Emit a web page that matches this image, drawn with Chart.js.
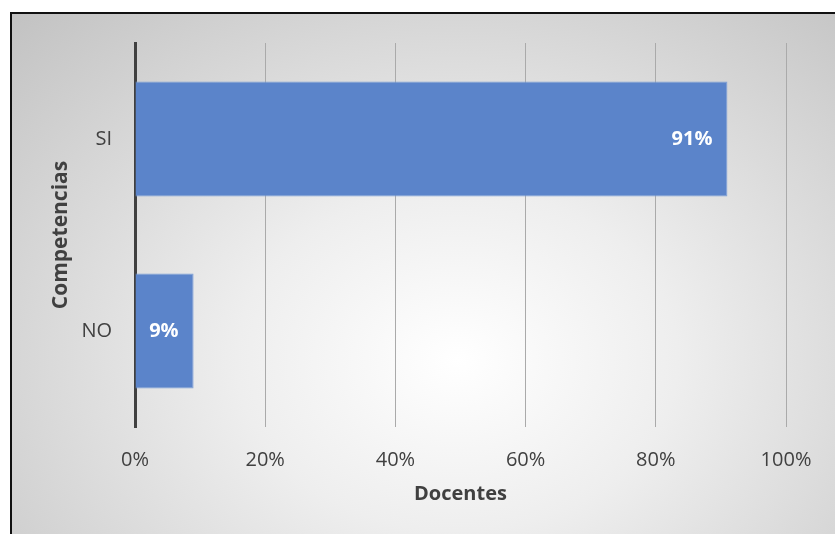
<!DOCTYPE html>
<html>
<head>
<meta charset="utf-8">
<script src="https://cdn.jsdelivr.net/npm/chart.js@4"></script>
<style>
html, body { margin: 0; padding: 0; background: #fff; overflow: hidden; }
#marco {
  position: absolute; left: 10px; top: 12px; width: 840px; height: 540px;
  border-left: 2px solid #111; border-top: 2px solid #111;
  background: radial-gradient(ellipse farthest-corner at 53% 64%, #ffffff 0%, #eeeeee 35%, #c2c2c2 100%);
}
#grafico { position: absolute; left: 0; top: 0; }
</style>
</head>
<body>
<div id="marco"></div>
<canvas id="grafico" width="835" height="534"></canvas>
<script>
// datos del grafico
const categorias = ["SI", "NO"];
const porcentajes = [91, 9];
const marcasX = [0, 20, 40, 60, 80, 100];

const fuente = "'Open Sans', sans-serif";
const gris = "#404040";

// etiquetas blancas dentro de la barra (extremo interior)
const etiquetas = {
  id: 'etiquetas',
  afterDatasetsDraw(chart) {
    const ctx = chart.ctx;
    const meta = chart.getDatasetMeta(0);
    ctx.save();
    ctx.font = "bold 20px " + fuente;
    ctx.fillStyle = "#ffffff";
    ctx.textAlign = "right";
    ctx.textBaseline = "middle";
    meta.data.forEach((barra, i) => {
      ctx.fillText(porcentajes[i] + "%", barra.x - 15, barra.y);
    });
    ctx.restore();
  }
};

new Chart(document.getElementById("grafico"), {
  type: 'bar',
  data: {
    labels: categorias,
    datasets: [{
      data: porcentajes,
      backgroundColor: "#5b84ca",
      borderColor: "#7d9fd8",
      borderWidth: 1,
      barPercentage: 0.6,
      categoryPercentage: 1
    }]
  },
  options: {
    indexAxis: 'y',
    responsive: false,
    animation: false,
    layout: { padding: { left: 0, top: 43, right: 49, bottom: 0 } },
    plugins: { legend: { display: false }, tooltip: { enabled: false } },
    scales: {
      x: {
        min: 0, max: 100,
        afterBuildTicks: (s) => { s.ticks = marcasX.map(v => ({ value: v })); },
        afterFit: (s) => { s.height = 107; },
        grid: { color: "#aaaaaa", lineWidth: 1, drawTicks: false },
        border: { display: false },
        ticks: {
          padding: 21,
          color: gris,
          font: { family: fuente, size: 20, lineHeight: 1.2 },
          callback: (v) => v + "%"
        },
        title: {
          display: true, text: "Docentes", color: gris,
          font: { family: fuente, size: 20, weight: 'bold', lineHeight: 1.2 },
          padding: { top: 0, bottom: 28 }
        }
      },
      y: {
        afterFit: (s) => { s.width = 135; },
        grid: { display: false, drawTicks: false },
        border: { display: true, color: gris, width: 3 },
        ticks: {
          padding: 23,
          color: gris,
          font: { family: fuente, size: 20, lineHeight: 1.2 }
        },
        title: {
          display: true, text: "Competencias", color: gris,
          font: { family: fuente, size: 21, weight: 'bold', lineHeight: 1.2 },
          padding: { top: 48, bottom: 0 }
        }
      }
    }
  },
  plugins: [etiquetas]
});
</script>
</body>
</html>
